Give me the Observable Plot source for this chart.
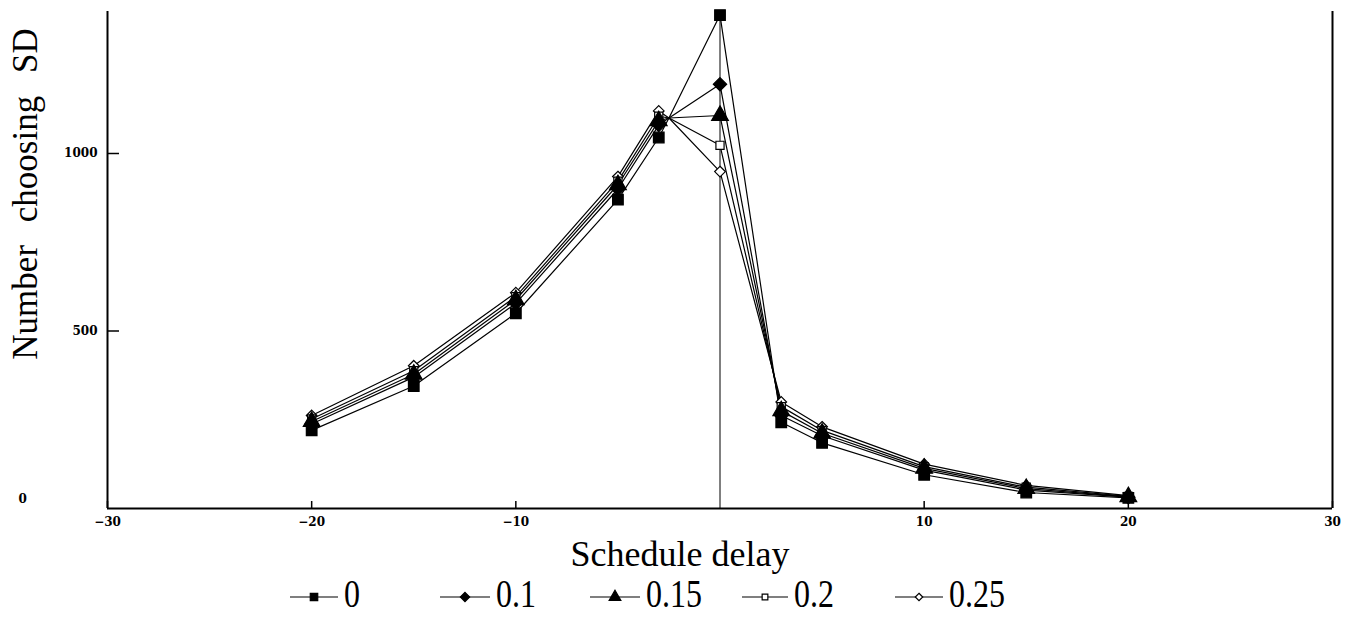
<!DOCTYPE html>
<html><head><meta charset="utf-8">
<script src="https://cdn.jsdelivr.net/npm/d3@7"></script>
<script src="https://cdn.jsdelivr.net/npm/@observablehq/plot@0.6"></script>
<style>
body{margin:0;background:#fff;}
#wrap{position:relative;width:1358px;height:622px;overflow:hidden;font-family:"Liberation Serif","Times New Roman",serif;color:#000;background:#fff}
#chart{position:absolute;left:0;top:0}
#ylabel{position:absolute;left:25px;top:194px;transform:translate(-50%,-50%) rotate(-90deg);font-size:35px;white-space:pre;line-height:1;word-spacing:14px}
#xlabel{position:absolute;left:680px;top:554px;transform:translate(-50%,-50%);font-size:36px;white-space:pre;line-height:0.85}
.leg{position:absolute;top:594px;display:flex;align-items:center;transform:translateY(-50%)}
.leg span{font-size:40px;line-height:0.75;display:inline-block;transform:scaleX(0.8);transform-origin:left center;margin-left:6px}
</style></head>
<body>
<div id="wrap">
  <div id="chart"></div>
  <div id="ylabel">Number choosing SD</div>
  <div id="xlabel">Schedule delay</div>
  <div id="legend"></div>
</div>
<script>
// ---- data ----
const delays = [-20, -15, -10, -5, -3, 0, 3, 5, 10, 15, 20];
const seriesNames = ["0", "0.1", "0.15", "0.2", "0.25"];
const v0   = [220, 345, 550, 870, 1045, 1390, 243, 185, 95, 45, 30];
const v01  = [238, 370, 578, 900, 1080, 1195, 262, 205, 108, 52, 32];
const v015 = [245, 378, 588, 912, 1092, 1107, 275, 212, 113, 56, 33];
const v02  = [252, 388, 597, 922, 1105, 1023, 287, 220, 118, 60, 34];
const v025 = [262, 402, 608, 935, 1120, 949, 300, 230, 125, 65, 36];
// common knot that all curves pass through between -3 and 0
const knotDelay = [-2.5];
const knotValue = [1100];
const xTicks = [-30, -20, -10, 10, 20, 30];
const yTicks = [500, 1000];
const yZeroLabel = [0];
const symbols = ["square", "diamond2", "triangle", "square", "diamond2"];
const fills = ["black", "black", "black", "white", "white"];
const radii = [6, 6, 6.2, 4.6, 4.8];

const allValues = [v0, v01, v015, v02, v025];

const dotData = allValues.map((vals, i) => delays.map((d, j) => ({s: seriesNames[i], x: d, y: vals[j]})));
const lineData = dotData.map(pts => {
  const out = [...pts, {s: pts[0].s, x: knotDelay[0], y: knotValue[0]}];
  return out.sort((a, b) => a.x - b.x);
});

const tickFont = {fontFamily: "DejaVu Serif", fontSize: 12, fontWeight: "bold"};
const fmt = d => d < 0 ? "\u2212" + Math.abs(d) : String(d);

const marks = [];
marks.push(Plot.ruleX([{x: 0, y2: v0[delays.indexOf(0)]}], {x: "x", y1: 0, y2: "y2", stroke: "black", strokeWidth: 1}));
for (let i = lineData.length - 1; i >= 0; i--) {
  marks.push(Plot.line(lineData[i], {x: "x", y: "y", stroke: "black", strokeWidth: 1.2}));
}
for (let i = dotData.length - 1; i >= 0; i--) {
  marks.push(Plot.dot(dotData[i], {x: "x", y: "y", symbol: () => symbols[i], r: radii[i], fill: fills[i], stroke: "black", strokeWidth: 1.2}));
}
marks.push(Plot.ruleX([-30, 30], {stroke: "black", strokeWidth: 2}));
marks.push(Plot.ruleY([0], {stroke: "black", strokeWidth: 2}));
marks.push(Plot.tickX(xTicks, {x: d => d, insetTop: 490, stroke: "black", strokeWidth: 1.5}));
marks.push(Plot.tickY(yTicks, {y: d => d, insetRight: 1213, stroke: "black", strokeWidth: 1.5}));
marks.push(Plot.axisX({ticks: xTicks, tickSize: 0, tickPadding: 9, label: null, tickFormat: fmt, ...tickFont}));
marks.push(Plot.axisY({ticks: yTicks, tickSize: 0, tickPadding: 10, label: null, tickFormat: fmt, ...tickFont}));
marks.push(Plot.text(yZeroLabel, {y: d => d, text: d => fmt(d), frameAnchor: "left", dx: -89, dy: -9, ...tickFont}));

const chart = Plot.plot({
  width: 1358, height: 540,
  marginLeft: 107, marginRight: 26, marginTop: 11, marginBottom: 32,
  x: {domain: [-30, 30]},
  y: {domain: [0, 1400]},
  style: {background: "white", color: "black"},
  marks
});
document.getElementById("chart").appendChild(chart);

// ---- legend ----
const legendLeft = [290, 440, 590, 742, 895];
const legendLineLen = [48, 50, 50, 46, 48];
const legend = document.getElementById("legend");
const typeMap = {square: d3.symbolSquare, diamond2: d3.symbolDiamond2, triangle: d3.symbolTriangle};
seriesNames.forEach((name, i) => {
  const item = document.createElement("div");
  item.className = "leg";
  item.style.left = legendLeft[i] + "px";
  const w = legendLineLen[i];
  const r = radii[i] * 0.7;
  const path = d3.symbol(typeMap[symbols[i]], Math.PI * r * r)();
  item.innerHTML = `<svg width="${w}" height="20" style="overflow:visible"><line x1="0" x2="${w}" y1="13" y2="13" stroke="black" stroke-width="1.2"/><path d="${path}" transform="translate(${w/2},13)" fill="${fills[i]}" stroke="black" stroke-width="1.2"/></svg><span>${name}</span>`;
  legend.appendChild(item);
});
</script>
</body></html>
